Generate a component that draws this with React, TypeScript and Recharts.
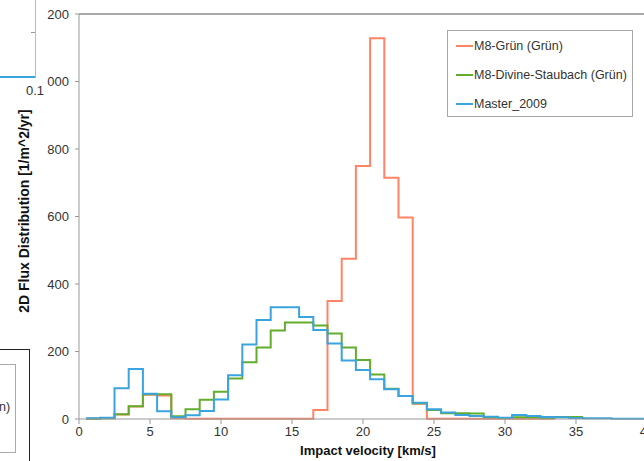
import { Label, Line, LineChart, ReferenceLine, XAxis, YAxis } from 'recharts';

// bins are 1 km/s wide, centred on whole velocities
const binCentres = Array.from({ length: 40 }, (_, i) => i + 1);

const m8Gruen = [
  1, 2, 13, 37, 72, 70, 2, 1, 1, 1, 1, 1, 1, 1, 1, 1, 27, 350, 475, 750, 1128, 715, 597, 45, 1, 1, 1, 1, 1, 1, 1,
  1, 1,
];
const m8Divine = [
  1, 2, 14, 38, 73, 73, 8, 29, 57, 81, 120, 168, 212, 262, 286, 286, 277, 253, 212, 175, 132, 90, 68, 47, 27, 17,
  17, 16, 5, 3, 5, 5, 3, 6, 6,
];
const master2009 = [
  2, 4, 91, 148, 75, 23, 5, 11, 24, 58, 130, 221, 293, 331, 331, 302, 264, 224, 173, 145, 118, 88, 68, 48, 29, 19,
  12, 9, 7, 4, 12, 9, 6, 5, 3, 2, 2, 1, 1, 1,
];

const xTicks = [0, 5, 10, 15, 20, 25, 30, 35, 40];
const yTicks = [0, 200, 400, 600, 800, 1000, 1200];

const series = [
  { key: 'gruen', name: 'M8-Grün (Grün)', values: m8Gruen, color: '#FF8466' },
  { key: 'divine', name: 'M8-Divine-Staubach (Grün)', values: m8Divine, color: '#62AD2E' },
  { key: 'master', name: 'Master_2009', values: master2009, color: '#3BA3DD' },
];

// one row per left bin edge, plus a closing edge so the last step is drawn
const valueAt = (values: number[], i: number) => {
  if (i < values.length) return values[i];
  if (i === values.length) return values[values.length - 1];
  return undefined;
};

const rows = [...binCentres, binCentres.length + 1].map((c, i) => {
  const row: Record<string, number | undefined> = { edge: c - 0.5 };
  series.forEach((s) => {
    row[s.key] = valueAt(s.values, i);
  });
  return row;
});

const font = '"Liberation Sans", Arial, sans-serif';

// the page this chart was cut from shows the left digit of the top labels cropped
const yTickFormat = (v: number) => (v >= 1000 ? String(v).slice(1) : String(v));

function LegendBox() {
  return (
    <div
      style={{
        position: 'absolute',
        left: 447,
        top: 30,
        border: '1px solid #a6a6a6',
        background: '#fff',
        width: 186,
        height: 87,
        boxSizing: 'border-box',
        fontSize: 12.5,
        color: '#333',
      }}
    >
      {series.map((s) => (
        <div key={s.key} style={{ display: 'flex', alignItems: 'center', height: 29, paddingLeft: 8 }}>
          <span style={{ display: 'inline-block', width: 17, height: 2, background: s.color, marginRight: 1 }} />
          <span>{s.name}</span>
        </div>
      ))}
    </div>
  );
}

export default function App() {
  return (
    <div
      style={{
        position: 'fixed',
        left: 0,
        top: 0,
        width: 644,
        height: 461,
        overflow: 'hidden',
        background: '#fff',
        fontFamily: font,
      }}
    >
      {/* bits of the neighbouring charts */}
      <div style={{ position: 'absolute', left: 0, top: 0, width: 35, height: 78, borderRight: '1px solid #bbb' }} />
      <div style={{ position: 'absolute', left: 0, top: 76, width: 35, height: 2, background: '#3BA3DD' }} />
      <div style={{ position: 'absolute', left: 31, top: 32, width: 4, height: 1, background: '#999' }} />
      <div style={{ position: 'absolute', left: 26, top: 83, fontSize: 13, color: '#333' }}>0.1</div>
      <div
        style={{
          position: 'absolute',
          left: -2,
          top: 349,
          width: 31,
          height: 120,
          borderTop: '1px solid #222',
          borderRight: '1px solid #222',
        }}
      />
      <div
        style={{
          position: 'absolute',
          left: -2,
          top: 364,
          width: 16,
          height: 87,
          border: '1px solid #aaa',
        }}
      />
      <div style={{ position: 'absolute', left: -1, top: 400, fontSize: 12.5, color: '#333' }}>n)</div>

      <div style={{ position: 'absolute', left: 0, top: 0 }}>
        <LineChart width={700} height={461} data={rows} margin={{ top: 14, right: 53, bottom: 12, left: 0 }}>
          <XAxis
            type="number"
            dataKey="edge"
            domain={[0, 40]}
            ticks={xTicks}
            allowDataOverflow
            height={30}
            stroke="#999"
            tickSize={5}
            tickMargin={3}
            tick={{ fill: '#333', fontSize: 13, fontFamily: font }}
          >
            <Label
              content={() => (
                <text x={368} y={455} textAnchor="middle" fontSize={13} fontWeight="bold" fontFamily={font} fill="#111">
                  Impact velocity [km/s]
                </text>
              )}
            />
          </XAxis>
          <YAxis
            type="number"
            domain={[0, 1200]}
            ticks={yTicks}
            width={79}
            stroke="#999"
            tickSize={4}
            tickMargin={6}
            tickFormatter={yTickFormat}
            tick={{ fill: '#333', fontSize: 13, fontFamily: font }}
          >
            <Label
              content={() => (
                <text
                  x={24}
                  y={211}
                  transform="rotate(-90 24 211)"
                  textAnchor="middle"
                  dominantBaseline="central"
                  fontSize={14}
                  fontWeight="bold"
                  fontFamily={font}
                  fill="#111"
                >
                  2D Flux Distribution [1/m^2/yr]
                </text>
              )}
            />
          </YAxis>
          <ReferenceLine y={1200} stroke="#555" strokeWidth={1} />
          {series.map((s) => (
            <Line
              key={s.key}
              dataKey={s.key}
              name={s.name}
              type="stepAfter"
              stroke={s.color}
              strokeWidth={2}
              dot={false}
              activeDot={false}
              connectNulls={false}
              isAnimationActive={false}
            />
          ))}
        </LineChart>
      </div>
      <LegendBox />
    </div>
  );
}
